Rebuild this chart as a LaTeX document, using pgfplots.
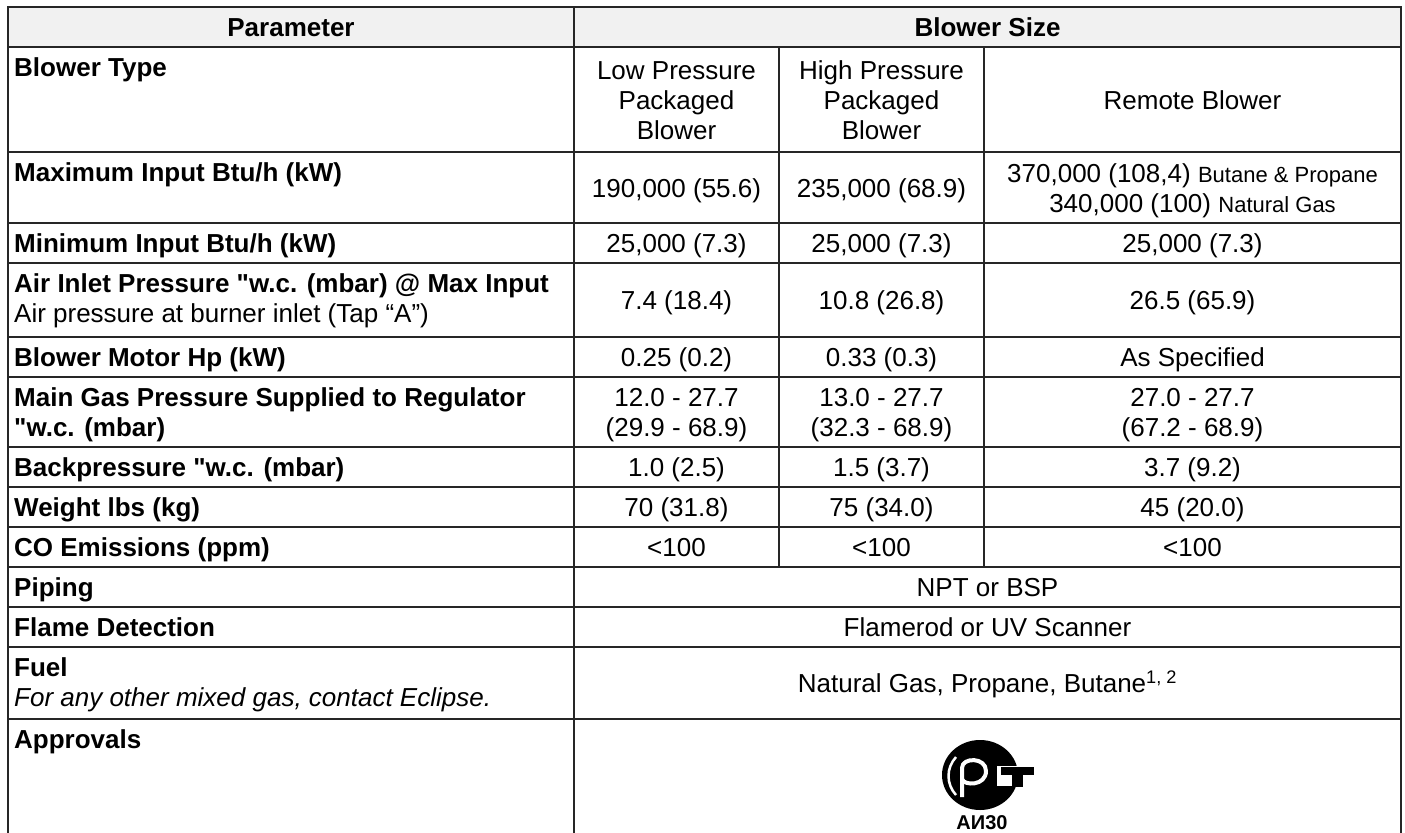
\documentclass[border=0pt]{standalone}
\usepackage{fontspec}
\setmainfont{Liberation Sans}[Ligatures=TeXOff]
\usepackage{pgfplots}
\pgfplotsset{compat=1.18}
\tikzset{
  B/.style={anchor=base west,inner sep=0pt,font=\fontsize{26}{30}\selectfont\bfseries},
  Bi/.style={anchor=base west,inner sep=0pt,font=\fontsize{26}{30}\selectfont\itshape},
  R/.style={anchor=base west,inner sep=0pt,font=\fontsize{26}{30}\selectfont},
  H/.style={anchor=base,inner sep=0pt,font=\fontsize{26}{30}\selectfont\bfseries},
  C/.style={anchor=base,inner sep=0pt,font=\fontsize{26}{30}\selectfont},
}
\begin{document}
\begin{tikzpicture}
\begin{axis}[width=1405pt,height=832pt,scale only axis,
  xmin=0,xmax=1405,ymin=0,ymax=832,y dir=reverse,
  hide axis,clip=false,
  tl/.style={line width=1.4pt,color=black!85,mark=none,forget plot,line cap=rect}]
\path (axis cs:0,0) rectangle (axis cs:1405,832);
% header fill
\fill[gray!11] (axis cs:8,7) rectangle (axis cs:1401,47);
% horizontal rules
\addplot[tl] coordinates {(8,7) (1401,7)};
\addplot[tl,line width=2pt] coordinates {(8,47) (1401,47)};
\addplot[tl] coordinates {(8,152) (1401,152)};
\addplot[tl] coordinates {(8,223) (1401,223)};
\addplot[tl] coordinates {(8,263) (1401,263)};
\addplot[tl] coordinates {(8,337) (1401,337)};
\addplot[tl] coordinates {(8,377) (1401,377)};
\addplot[tl] coordinates {(8,447) (1401,447)};
\addplot[tl] coordinates {(8,487) (1401,487)};
\addplot[tl] coordinates {(8,527) (1401,527)};
\addplot[tl] coordinates {(8,567) (1401,567)};
\addplot[tl] coordinates {(8,607) (1401,607)};
\addplot[tl] coordinates {(8,647) (1401,647)};
\addplot[tl] coordinates {(8,719) (1401,719)};
% vertical rules
\addplot[tl] coordinates {(8,7) (8,832)};
\addplot[tl] coordinates {(574,7) (574,832)};
\addplot[tl] coordinates {(1401,7) (1401,832)};
\addplot[tl] coordinates {(779,47) (779,567)};
\addplot[tl] coordinates {(984,47) (984,567)};
% header
\node[H] at (axis cs:291,36.5) {Parameter};
\node[H] at (axis cs:987.5,36.5) {Blower Size};
% column 1 labels
\node[B] at (axis cs:14,76) {Blower Type};
\node[B] at (axis cs:14,181) {Maximum Input Btu/h (kW)};
\node[B] at (axis cs:14,252.5) {Minimum Input Btu/h (kW)};
\node[B] at (axis cs:14,292) {Air Inlet Pressure "w.c. (mbar) @ Max Input};
\node[R] at (axis cs:14,322) {Air pressure at burner inlet (Tap “A”)};
\node[B] at (axis cs:14,366.5) {Blower Motor Hp (kW)};
\node[B] at (axis cs:14,406) {Main Gas Pressure Supplied to Regulator};
\node[B] at (axis cs:14,436) {"w.c. (mbar)};
\node[B] at (axis cs:14,476.5) {Backpressure "w.c. (mbar)};
\node[B] at (axis cs:14,516.5) {Weight lbs (kg)};
\node[B] at (axis cs:14,556.5) {CO Emissions (ppm)};
\node[B] at (axis cs:14,596.5) {Piping};
\node[B] at (axis cs:14,636.5) {Flame Detection};
\node[B] at (axis cs:14,676) {Fuel};
\node[Bi] at (axis cs:14,706) {For any other mixed gas, contact Eclipse.};
\node[B] at (axis cs:14,748) {Approvals};
% blower type
\node[C] at (axis cs:676.5,79) {Low Pressure};
\node[C] at (axis cs:676.5,109) {Packaged};
\node[C] at (axis cs:676.5,139) {Blower};
\node[C] at (axis cs:881.5,79) {High Pressure};
\node[C] at (axis cs:881.5,109) {Packaged};
\node[C] at (axis cs:881.5,139) {Blower};
\node[C] at (axis cs:1192.5,109) {Remote Blower};
% max input
\node[C] at (axis cs:676.5,197) {190,000 (55.6)};
\node[C] at (axis cs:881.5,197) {235,000 (68.9)};
\node[C] at (axis cs:1192.5,182) {370,000 (108,4) {\fontsize{22}{26}\selectfont Butane \& Propane}};
\node[C] at (axis cs:1192.5,212) {340,000 (100) {\fontsize{22}{26}\selectfont Natural Gas}};
% min input
\node[C] at (axis cs:676.5,252.5) {25,000 (7.3)};
\node[C] at (axis cs:881.5,252.5) {25,000 (7.3)};
\node[C] at (axis cs:1192.5,252.5) {25,000 (7.3)};
% air inlet
\node[C] at (axis cs:676.5,309.5) {7.4 (18.4)};
\node[C] at (axis cs:881.5,309.5) {10.8 (26.8)};
\node[C] at (axis cs:1192.5,309.5) {26.5 (65.9)};
% motor
\node[C] at (axis cs:676.5,366.5) {0.25 (0.2)};
\node[C] at (axis cs:881.5,366.5) {0.33 (0.3)};
\node[C] at (axis cs:1192.5,366.5) {As Specified};
% main gas
\node[C] at (axis cs:676.5,406.5) {12.0 - 27.7};
\node[C] at (axis cs:676.5,436.5) {(29.9 - 68.9)};
\node[C] at (axis cs:881.5,406.5) {13.0 - 27.7};
\node[C] at (axis cs:881.5,436.5) {(32.3 - 68.9)};
\node[C] at (axis cs:1192.5,406.5) {27.0 - 27.7};
\node[C] at (axis cs:1192.5,436.5) {(67.2 - 68.9)};
% backpressure
\node[C] at (axis cs:676.5,476.5) {1.0 (2.5)};
\node[C] at (axis cs:881.5,476.5) {1.5 (3.7)};
\node[C] at (axis cs:1192.5,476.5) {3.7 (9.2)};
% weight
\node[C] at (axis cs:676.5,516.5) {70 (31.8)};
\node[C] at (axis cs:881.5,516.5) {75 (34.0)};
\node[C] at (axis cs:1192.5,516.5) {45 (20.0)};
% CO
\node[C] at (axis cs:676.5,556.5) {<100};
\node[C] at (axis cs:881.5,556.5) {<100};
\node[C] at (axis cs:1192.5,556.5) {<100};
% merged
\node[C] at (axis cs:987.5,596.5) {NPT or BSP};
\node[C] at (axis cs:987.5,636.5) {Flamerod or UV Scanner};
\node[C] at (axis cs:987.5,692.5) {Natural Gas, Propane, Butane\textsuperscript{1, 2}};
% approval logo
\fill[black] (axis cs:980,775) ellipse [x radius=38pt, y radius=35pt];
\fill[white] (axis cs:997,766) rectangle (axis cs:1030,786);
\fill[black] (axis cs:1001,767) rectangle (axis cs:1034,775);
\fill[black] (axis cs:1012,775) rectangle (axis cs:1023,787);
\draw[white,line width=2.5pt] (axis cs:956,757) .. controls (axis cs:946,768) and (axis cs:946,784) .. (axis cs:956,795);
\draw[white,line width=4pt,line join=round] (axis cs:962,797) -- (axis cs:962,768)
  .. controls (axis cs:962,757) and (axis cs:986,757) .. (axis cs:986,771)
  .. controls (axis cs:986,786) and (axis cs:964,786) .. (axis cs:962,779);
\node[anchor=base,inner sep=0pt,font=\fontsize{20}{22}\selectfont\bfseries] at (axis cs:982,829) {АИ30};
\end{axis}
\end{tikzpicture}
\end{document}
